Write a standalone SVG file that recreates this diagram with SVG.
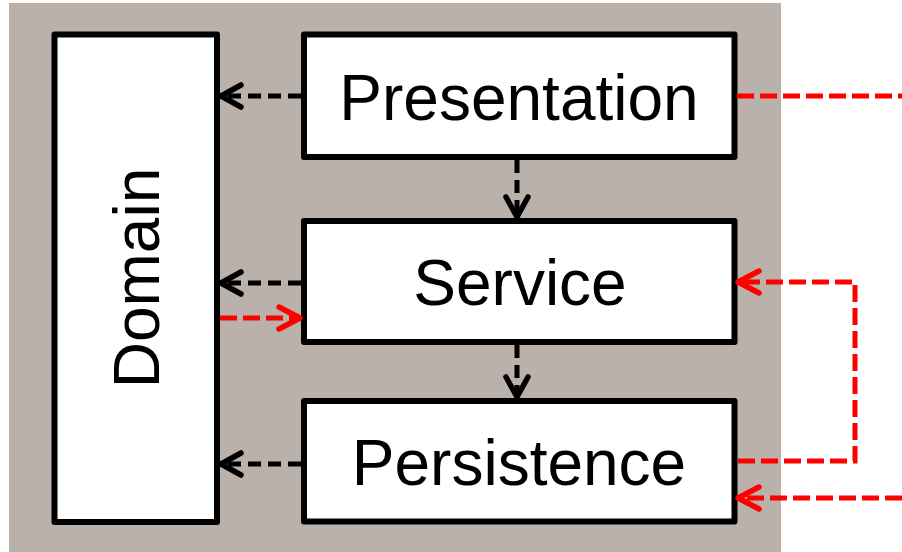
<svg xmlns="http://www.w3.org/2000/svg" width="902" height="552" viewBox="0 0 902 552">
  <defs>
    <marker id="ah-black" markerUnits="userSpaceOnUse" markerWidth="40" markerHeight="40" viewBox="-30 -20 40 40" refX="0" refY="0" orient="auto">
      <path d="M-20,-11 L0,0 L-20,11" fill="none" stroke="#000" stroke-width="5.5" stroke-linecap="round" stroke-linejoin="round"/>
    </marker>
    <marker id="ah-red" markerUnits="userSpaceOnUse" markerWidth="40" markerHeight="40" viewBox="-30 -20 40 40" refX="0" refY="0" orient="auto">
      <path d="M-21,-11 L0,0 L-21,11" fill="none" stroke="#ff0000" stroke-width="5.5" stroke-linecap="round" stroke-linejoin="round"/>
    </marker>
  </defs>
  <style>
    .box { fill: #ffffff; stroke: #000000; stroke-width: 6; stroke-linejoin: round; }
    .lbl { font-family: "Liberation Sans", Arial, sans-serif; font-size: 64px; fill: #000; text-anchor: middle; }
    .dep { fill: none; stroke: #000; stroke-width: 5; stroke-dasharray: 13 7; }
    .red { fill: none; stroke: #ff0000; stroke-width: 5; stroke-dasharray: 17 6; }
  </style>
  <rect x="0" y="0" width="902" height="552" fill="#ffffff"/>
  <rect x="9" y="3" width="772" height="549" fill="#b9b1aa"/>

  <g id="domain">
    <rect class="box" x="54.5" y="34.5" width="162.5" height="487.5"/>
    <text class="lbl" transform="translate(159,278) rotate(-90)">Domain</text>
  </g>
  <g id="presentation">
    <rect class="box" x="304" y="34.5" width="430.5" height="122.5"/>
    <text class="lbl" x="519" y="120">Presentation</text>
  </g>
  <g id="service">
    <rect class="box" x="304" y="221" width="430.5" height="121"/>
    <text class="lbl" x="520" y="305">Service</text>
  </g>
  <g id="persistence">
    <rect class="box" x="304" y="401" width="430.5" height="120.5"/>
    <text class="lbl" x="519" y="485">Persistence</text>
  </g>

  <g id="connectors">
    <line class="dep" x1="301" y1="96" x2="221" y2="96" marker-end="url(#ah-black)"/>
    <line class="dep" x1="301" y1="283" x2="221" y2="283" marker-end="url(#ah-black)"/>
    <line class="dep" x1="301" y1="464" x2="221" y2="464" marker-end="url(#ah-black)"/>
    <line class="dep" x1="517" y1="160" x2="517" y2="217" marker-end="url(#ah-black)"/>
    <line class="dep" x1="517" y1="345" x2="517" y2="397" marker-end="url(#ah-black)"/>
    <line class="red" x1="220" y1="318" x2="300" y2="318" marker-end="url(#ah-red)"/>
    <line class="red" x1="737" y1="96" x2="902" y2="96"/>
    <polyline class="red" points="738,461 855,461 855,282 738,282" marker-end="url(#ah-red)"/>
    <line class="red" x1="902" y1="498" x2="738" y2="498" marker-end="url(#ah-red)"/>
  </g>
</svg>
